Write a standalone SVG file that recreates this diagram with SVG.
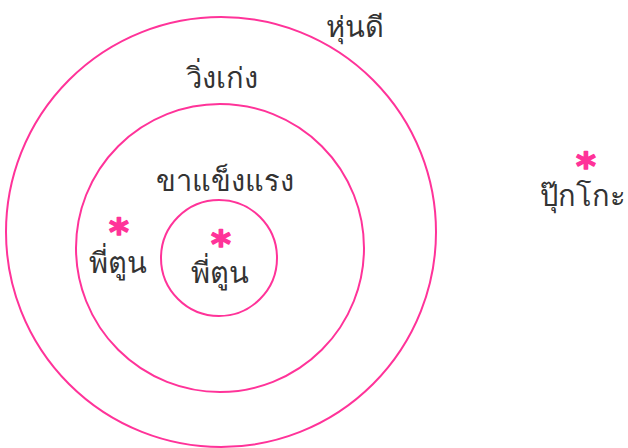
<svg xmlns="http://www.w3.org/2000/svg" width="628" height="448" viewBox="0 0 628 448">
<style>
.ring{fill:none;stroke:#ff3399;stroke-width:2}
.lbl{font-family:"Noto Sans","DejaVu Sans",sans-serif;font-size:29px;font-weight:300;fill:#333;text-anchor:middle}
.star{font-family:"DejaVu Sans",sans-serif;font-size:38px;font-weight:bold;fill:#ff3399;stroke:#ff3399;stroke-width:1.5;stroke-linejoin:round;text-anchor:middle}
</style>
<rect width="628" height="448" fill="#fff"/>
<g id="outer"><circle class="ring" cx="221" cy="232" r="215"/><text class="lbl" x="355" y="37">หุ่นดี</text></g>
<g id="middle"><circle class="ring" cx="220" cy="248" r="144"/><text class="lbl" x="222" y="88">วิ่งเก่ง</text></g>
<g id="inner"><circle class="ring" cx="219" cy="258" r="58"/><text class="lbl" x="225" y="191">ขาแข็งแรง</text></g>
<g id="p1"><text class="star" x="119" y="245">*</text><text class="lbl" x="118" y="273">พี่ตูน</text></g>
<g id="p2"><text class="star" x="221" y="257">*</text><text class="lbl" x="220" y="283">พี่ตูน</text></g>
<g id="p3"><text class="star" x="586" y="179">*</text><text class="lbl" x="583" y="206">ปุ๊กโกะ</text></g>
</svg>
